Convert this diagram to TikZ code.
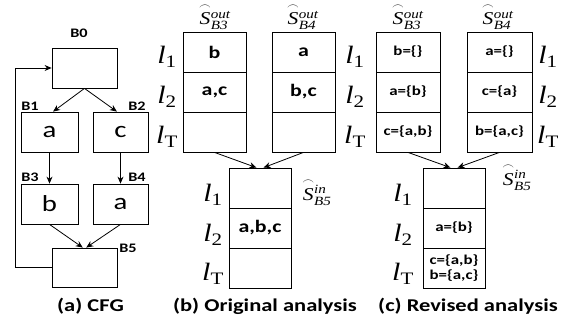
\documentclass[tikz,border=0pt]{standalone}
\usepackage{amsmath}
\usepackage{fontspec}
\setmainfont{Carlito}[FakeStretch=1.25]
\newfontfamily\tms{Liberation Serif}[FakeStretch=1.2]
\usetikzlibrary{arrows.meta}
\tikzset{
  blk/.style={draw, line width=0.8pt, minimum width=#1, minimum height=40pt, inner sep=0pt, font=\fontsize{23}{23}\selectfont},
  cell/.style={draw, line width=0.8pt, minimum width=#1, minimum height=40pt, inner sep=0pt, font=\bfseries\fontsize{17.5}{17.5}\selectfont},
  cellc/.style={draw, line width=0.8pt, minimum width=#1, minimum height=40pt, inner sep=0pt, font=\bfseries\fontsize{13.5}{15}\selectfont, align=center},
  blab/.style={font=\bfseries\fontsize{13}{13}\selectfont, inner sep=0pt},
  captxt/.style={font=\bfseries\fontsize{18}{18}\selectfont, inner sep=0pt},
  llab/.style={font=\tms\fontsize{25}{25}\selectfont, inner sep=0pt},
  slab/.style={font=\tms\fontsize{18}{18}\selectfont, inner sep=0pt},
  arr/.style={-{Stealth[length=7pt,width=6pt]}, line width=0.8pt},
}
\newcommand{\lsub}[1]{$\text{\textit{l}}_{\text{#1}}$}
\newcommand{\shat}[2]{$\overset{\frown}{\text{\textit{S}}}{}^{\text{\textit{#1}}}_{\text{\textit{#2}}}$}
\begin{document}
\begin{tikzpicture}[x=1pt,y=-1pt]
\useasboundingbox (0,0) rectangle (566,323);
% ---------- (a) CFG ----------
\node[blk=65pt] (B0) at (84.5,68) {};
\node[blk=57pt] (B1) at (49.5,132) {a};
\node[blk=55pt] (B2) at (120.5,132) {c};
\node[blk=57pt] (B3) at (49.5,204) {b};
\node[blk=55pt] (B4) at (120.5,204) {a};
\node[blk=65pt, minimum height=39pt] (B5) at (84.5,267.5) {};
\node[blab] (lB0) at (79,33) {B0};
\node[blab] (lB1) at (30,106) {B1};
\node[blab] (lB2) at (137,106) {B2};
\node[blab] (lB3) at (30,177) {B3};
\node[blab] (lB4) at (137,177) {B4};
\node[blab] (lB5) at (128,248) {B5};
\draw[arr] (B0.south) -- (B1.80);
\draw[arr] (B0.south) -- (B2.100);
\draw[arr] (B1.south) -- (B3.north);
\draw[arr] (B2.south) -- (B4.north);
\draw[arr] (B3.south) -- (B5.95);
\draw[arr] (B4.south) -- (B5.85);
\draw[arr] (B5.west) -- ++(-36,0) |- (B0.west);
\node[captxt] (capa) at (90.5,306) {(a) CFG};
% ---------- (b) Original analysis ----------
\node[cell=63pt] (b3a) at (214.5,52) {b};
\node[cell=63pt] (b3b) at (214.5,92) {a,c};
\node[cell=63pt] (b3c) at (214.5,132) {};
\node[cell=63pt] (b4a) at (303.5,52) {a};
\node[cell=63pt] (b4b) at (303.5,92) {b,c};
\node[cell=63pt] (b4c) at (303.5,132) {};
\node[cell=62pt] (b5a) at (260,188) {};
\node[cell=62pt] (b5b) at (260,228) {a,b,c};
\node[cell=62pt] (b5c) at (260,268) {};
\draw[arr] (b3c.south) -- (b5a.100);
\draw[arr] (b4c.south) -- (b5a.80);
\node[slab] (sb3) at (215,16.5) {\shat{out}{B3}};
\node[slab] (sb4) at (303,16.5) {\shat{out}{B4}};
\node[slab] (sb5) at (317,192) {\shat{in}{B5}};
\node[llab] (la1) at (167,57) {\lsub{1}};
\node[llab] (la2) at (167,97) {\lsub{2}};
\node[llab] (la3) at (167,137) {\lsub{T}};
\node[llab] (lb1) at (355,57) {\lsub{1}};
\node[llab] (lb2) at (355,97) {\lsub{2}};
\node[llab] (lb3) at (355,137) {\lsub{T}};
\node[llab] (lc1) at (213,195) {\lsub{1}};
\node[llab] (lc2) at (213,235) {\lsub{2}};
\node[llab] (lc3) at (213,274) {\lsub{T}};
\node[captxt] (capb) at (265,306) {(b) Original analysis};
% ---------- (c) Revised analysis ----------
\node[cellc=64pt] (c3a) at (408,52) {b=\{\}};
\node[cellc=64pt] (c3b) at (408,92) {a=\{b\}};
\node[cellc=64pt] (c3c) at (408,132) {c=\{a,b\}};
\node[cellc=65pt] (c4a) at (499.5,52) {a=\{\}};
\node[cellc=65pt] (c4b) at (499.5,92) {c=\{a\}};
\node[cellc=65pt] (c4c) at (499.5,132) {b=\{a,c\}};
\node[cellc=62pt] (c5a) at (454,188) {};
\node[cellc=62pt] (c5b) at (454,228) {a=\{b\}};
\node[cellc=62pt] (c5c) at (454,268) {c=\{a,b\}\\b=\{a,c\}};
\draw[arr] (c3c.south) -- (c5a.100);
\draw[arr] (c4c.south) -- (c5a.80);
\node[slab] (sc3) at (408,16.5) {\shat{out}{B3}};
\node[slab] (sc4) at (498,16.5) {\shat{out}{B4}};
\node[slab] (sc5) at (517,177) {\shat{in}{B5}};
\node[llab] (ld1) at (548,57) {\lsub{1}};
\node[llab] (ld2) at (548,97) {\lsub{2}};
\node[llab] (ld3) at (548,137) {\lsub{T}};
\node[llab] (le1) at (403,195) {\lsub{1}};
\node[llab] (le2) at (403,235) {\lsub{2}};
\node[llab] (le3) at (403,274) {\lsub{T}};
\node[captxt] (capc) at (468,306) {(c) Revised analysis};
\end{tikzpicture}
\end{document}
